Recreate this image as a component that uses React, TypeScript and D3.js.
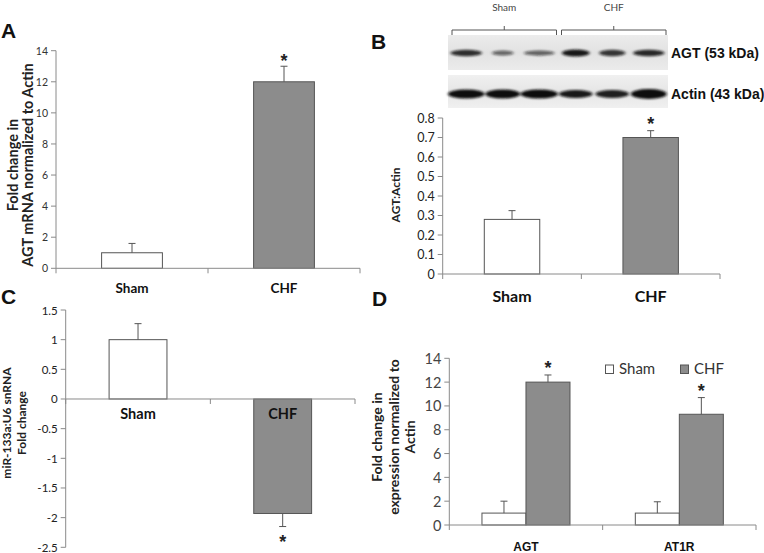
import React from 'react';
import * as d3 from 'd3';

// ---------- data ----------
const groups = ['Sham', 'CHF'];

// Panel A: AGT mRNA fold change
const aMeans = [1.0, 12.0];
const aErrs = [0.6, 1.0];
const aTicks = [0, 2, 4, 6, 8, 10, 12, 14];
const aSig = [false, true];

// Panel B: AGT:Actin densitometry
const bMeans = [0.28, 0.7];
const bErrs = [0.045, 0.035];
const bTicks = [0, 0.1, 0.2, 0.3, 0.4, 0.5, 0.6, 0.7, 0.8];
const bSig = [false, true];

// Panel C: miR-133a:U6 snRNA fold change
const cMeans = [1.0, -1.93];
const cErrs = [0.27, 0.22];
const cTicks = [1.5, 1, 0.5, 0, -0.5, -1, -1.5, -2, -2.5];
const cSig = [false, true];

// Panel D: AGT / AT1R expression
const genes = ['AGT', 'AT1R'];
const dSham = [1.0, 1.0];
const dShamErr = [1.0, 0.95];
const dChf = [12.0, 9.3];
const dChfErr = [0.6, 1.4];
const dTicks = [0, 2, 4, 6, 8, 10, 12, 14];
const dSig = [true, true];

// Western blot lanes (3 Sham, 3 CHF)
const lanes = ['S1', 'S2', 'S3', 'C1', 'C2', 'C3'];
const laneGroup = ['Sham', 'Sham', 'Sham', 'CHF', 'CHF', 'CHF'];
const agtIntensity = [0.85, 0.6, 0.62, 0.95, 0.82, 0.88];
const agtWidth = [0.86, 0.6, 0.84, 0.76, 0.72, 0.86];
const agtThick = [0.9, 0.7, 0.75, 1.0, 0.9, 0.95];
const actinIntensity = [1, 1, 1, 0.95, 0.92, 1];
const actinWidth = [1.0, 0.95, 1.02, 0.92, 0.92, 0.98];
const actinThick = [1, 1, 1, 0.9, 0.9, 1.1];

// ---------- style ----------
const CALIBRI = 'Lato, "Open Sans", sans-serif';
const ARIAL = '"Liberation Sans", Arial, sans-serif';
const AXIS = '#8a8a8a';
const BAR_STROKE = '#555';
const CHF_FILL = '#8c8c8c';
const SHAM_FILL = '#ffffff';

function ErrorBar({ x, y0, y1, cap = 7 }: { x: number; y0: number; y1: number; cap?: number }) {
  return (
    <g stroke="#555" strokeWidth={1}>
      <line x1={x} x2={x} y1={y0} y2={y1} />
      <line x1={x - cap / 2} x2={x + cap / 2} y1={y1} y2={y1} />
    </g>
  );
}

function YAxis({ x, scale, ticks, fontSize, color, fmt, font }: any) {
  const [r0, r1] = scale.range();
  return (
    <g>
      <line x1={x} x2={x} y1={Math.min(r0, r1)} y2={Math.max(r0, r1)} stroke={AXIS} strokeWidth={1} />
      {ticks.map((t: number) => (
        <g key={t}>
          <line x1={x - 5} x2={x} y1={scale(t)} y2={scale(t)} stroke={AXIS} strokeWidth={1} />
          <text
            x={x - 8}
            y={scale(t)}
            textAnchor="end"
            dominantBaseline="central"
            fontFamily={font || CALIBRI}
            fontSize={fontSize}
            fill={color}
          >
            {fmt ? fmt(t) : String(t)}
          </text>
        </g>
      ))}
    </g>
  );
}

function XBaseline({ xScale, y, tickDown = 5 }: any) {
  const [r0, r1] = xScale.range();
  const n = xScale.domain().length;
  const step = (r1 - r0) / n;
  const bounds = d3.range(n + 1).map((i) => r0 + i * step);
  return (
    <g stroke={AXIS} strokeWidth={1}>
      <line x1={r0} x2={r1} y1={y} y2={y} />
      {bounds.map((b, i) => (
        <line key={i} x1={b} x2={b} y1={y} y2={y + tickDown} />
      ))}
    </g>
  );
}

function RotTitle({ cx, cy, lines, fontSize, lineGap, font, color = '#222' }: any) {
  const n = lines.length;
  return (
    <g>
      {lines.map((l: string, i: number) => (
        <text
          key={i}
          transform={`translate(${cx + (i - (n - 1) / 2) * lineGap},${cy}) rotate(-90)`}
          textAnchor="middle"
          dominantBaseline="central"
          fontFamily={font || CALIBRI}
          fontWeight="bold"
          fontSize={fontSize}
          fill={color}
        >
          {l}
        </text>
      ))}
    </g>
  );
}

function Star({ x, y, size = 18 }: any) {
  return (
    <text x={x} y={y} textAnchor="middle" fontFamily={ARIAL} fontWeight="bold" fontSize={size} fill="#222">
      *
    </text>
  );
}

function PanelLetter({ x, y, t }: any) {
  return (
    <text x={x} y={y} fontFamily={ARIAL} fontWeight="bold" fontSize={21} fill="#111">
      {t}
    </text>
  );
}

// ---------- panels ----------
function PanelA() {
  const x = d3.scaleBand<string>().domain(groups).range([56, 360]).paddingInner(0.6).paddingOuter(0.3);
  const y = d3.scaleLinear().domain([0, 14]).range([268.3, 50.7]);
  return (
    <g>
      <PanelLetter x={1} y={38} t="A" />
      <RotTitle cx={20} cy={165} lines={['Fold change in', 'AGT mRNA normalized to Actin']} fontSize={14.5} lineGap={15.5} />
      {groups.map((g, i) => {
        const x0 = x(g)!;
        const cx = x0 + x.bandwidth() / 2;
        const top = y(aMeans[i] + aErrs[i]);
        return (
          <g key={g}>
            <rect x={x0} y={y(aMeans[i])} width={x.bandwidth()} height={y(0) - y(aMeans[i])} fill={i === 0 ? SHAM_FILL : CHF_FILL} stroke={BAR_STROKE} />
            <ErrorBar x={cx} y0={y(aMeans[i])} y1={top} />
            {aSig[i] && <Star x={cx} y={top + 1} />}
            <text x={cx} y={293} textAnchor="middle" fontFamily={CALIBRI} fontWeight="bold" fontSize={13.5} fill="#111">
              {g}
            </text>
          </g>
        );
      })}
      <YAxis x={56} scale={y} ticks={aTicks} fontSize={10.5} color="#333" />
      <XBaseline xScale={x} y={y(0)} />
    </g>
  );
}

function Blot() {
  const lx = d3.scaleBand<string>().domain(lanes).range([448, 667]).padding(0);
  const blots = [
    { key: 'agt', y0: 35, y1: 70, cy: 53, inten: agtIntensity, wid: agtWidth, thick: agtThick, h: 7, label: 'AGT (53 kDa)' },
    { key: 'actin', y0: 75, y1: 108, cy: 94, inten: actinIntensity, wid: actinWidth, thick: actinThick, h: 9, label: 'Actin (43 kDa)' },
  ];
  const brackets = groups.map((g) => {
    const idx = laneGroup.map((lg, i) => (lg === g ? i : -1)).filter((i) => i >= 0);
    const left = lx(lanes[idx[0]])! + 4;
    const right = lx(lanes[idx[idx.length - 1]])! + lx.bandwidth() - 1;
    return { g, left, right };
  });
  return (
    <g>
      <defs>
        <filter id="bandBlur" x="-20%" y="-100%" width="140%" height="300%">
          <feGaussianBlur stdDeviation="1.4 1.1" />
        </filter>
        <linearGradient id="blotBg1" x1="0" x2="0" y1="0" y2="1">
          <stop offset="0" stopColor="#ececec" />
          <stop offset="0.5" stopColor="#e2e2e2" />
          <stop offset="1" stopColor="#ebebeb" />
        </linearGradient>
        <linearGradient id="blotBg2" x1="0" x2="0" y1="0" y2="1">
          <stop offset="0" stopColor="#f0f0f0" />
          <stop offset="0.5" stopColor="#e6e6e6" />
          <stop offset="1" stopColor="#f0f0f0" />
        </linearGradient>
      </defs>
      {brackets.map((b) => (
        <g key={b.g}>
          <path
            d={`M${b.left},35 L${b.left},30 L${b.right},30 L${b.right},35 M${(b.left + b.right) / 2},30 L${(b.left + b.right) / 2},26`}
            fill="none"
            stroke="#555"
            strokeWidth={1}
          />
          <text x={(b.left + b.right) / 2} y={11} textAnchor="middle" fontFamily={CALIBRI} fontSize={10} fill="#444">
            {b.g}
          </text>
        </g>
      ))}
      {blots.map((bl, bi) => (
        <g key={bl.key}>
          <rect x={448} y={bl.y0} width={220} height={bl.y1 - bl.y0} fill={`url(#blotBg${bi + 1})`} />
          <g filter="url(#bandBlur)">
            {lanes.map((l, i) => {
              const w = lx.bandwidth() * bl.wid[i];
              const cx = lx(l)! + lx.bandwidth() / 2;
              const hh = bl.h * bl.thick[i];
              return (
                <ellipse
                  key={l}
                  cx={cx}
                  cy={bl.cy}
                  rx={w / 2}
                  ry={hh / 2}
                  fill="#111"
                  opacity={bl.inten[i]}
                />
              );
            })}
          </g>
          <text x={671} y={bl.cy} dominantBaseline="central" fontFamily={ARIAL} fontWeight="bold" fontSize={14} fill="#111">
            {bl.label}
          </text>
        </g>
      ))}
    </g>
  );
}

function PanelB() {
  const x = d3.scaleBand<string>().domain(groups).range([442.7, 720]).paddingInner(0.6).paddingOuter(0.3);
  const y = d3.scaleLinear().domain([0, 0.8]).range([274, 118]);
  return (
    <g>
      <PanelLetter x={371} y={49} t="B" />
      <Blot />
      <RotTitle cx={395} cy={195} lines={['AGT:Actin']} fontSize={12} lineGap={15} />
      {groups.map((g, i) => {
        const x0 = x(g)!;
        const cx = x0 + x.bandwidth() / 2;
        const top = y(bMeans[i] + bErrs[i]);
        return (
          <g key={g}>
            <rect x={x0} y={y(bMeans[i])} width={x.bandwidth()} height={y(0) - y(bMeans[i])} fill={i === 0 ? SHAM_FILL : CHF_FILL} stroke={BAR_STROKE} />
            <ErrorBar x={cx} y0={y(bMeans[i])} y1={top} />
            {bSig[i] && <Star x={cx} y={top - 1} />}
            <text x={cx} y={302} textAnchor="middle" fontFamily={CALIBRI} fontWeight="bold" fontSize={16} fill="#111">
              {g}
            </text>
          </g>
        );
      })}
      <YAxis x={442.7} scale={y} ticks={bTicks} fontSize={12.5} color="#222" fmt={(t: number) => (t === 0 ? '0' : d3.format('.1f')(t))} />
      <XBaseline xScale={x} y={y(0)} />
    </g>
  );
}

function PanelC() {
  const x = d3.scaleBand<string>().domain(groups).range([65.7, 355]).paddingInner(0.6).paddingOuter(0.3);
  const y = d3.scaleLinear().domain([-2.5, 1.5]).range([547.3, 310]);
  return (
    <g>
      <PanelLetter x={1} y={304} t="C" />
      <RotTitle cx={14} cy={423} lines={['miR-133a:U6 snRNA', 'Fold change']} fontSize={12} lineGap={14.5} />
      {groups.map((g, i) => {
        const x0 = x(g)!;
        const cx = x0 + x.bandwidth() / 2;
        const v = cMeans[i];
        const end = v >= 0 ? v + cErrs[i] : v - cErrs[i];
        const yEnd = y(end);
        return (
          <g key={g}>
            <rect x={x0} y={Math.min(y(v), y(0))} width={x.bandwidth()} height={Math.abs(y(0) - y(v))} fill={i === 0 ? SHAM_FILL : CHF_FILL} stroke={BAR_STROKE} />
            <ErrorBar x={cx} y0={y(v)} y1={yEnd} />
            {cSig[i] && <Star x={cx} y={yEnd + 21.5} />}
            <text x={cx} y={418.5} textAnchor="middle" fontFamily={CALIBRI} fontWeight="bold" fontSize={14.5} fill="#111">
              {g}
            </text>
          </g>
        );
      })}
      <YAxis x={65.7} scale={y} ticks={cTicks} fontSize={11.5} color="#222" />
      <XBaseline xScale={x} y={y(0)} />
    </g>
  );
}

function PanelD() {
  const x = d3.scaleBand<string>().domain(genes).range([449.3, 756]).paddingInner(0.426).paddingOuter(0.213);
  const sub = d3.scaleBand<string>().domain(groups).range([0, x.bandwidth()]).padding(0);
  const y = d3.scaleLinear().domain([0, 14]).range([525, 358.3]);
  const series = [
    { g: 'Sham', m: dSham, e: dShamErr, fill: SHAM_FILL, sig: [false, false] },
    { g: 'CHF', m: dChf, e: dChfErr, fill: CHF_FILL, sig: dSig },
  ];
  return (
    <g>
      <PanelLetter x={372} y={306} t="D" />
      <RotTitle cx={393} cy={437} lines={['Fold change in', 'expression normalized to', 'Actin']} fontSize={14} lineGap={16.5} />
      {genes.map((gene, gi) => (
        <g key={gene}>
          {series.map((s) => {
            const x0 = x(gene)! + sub(s.g)!;
            const cx = x0 + sub.bandwidth() / 2;
            const top = y(s.m[gi] + s.e[gi]);
            return (
              <g key={s.g}>
                <rect x={x0} y={y(s.m[gi])} width={sub.bandwidth()} height={y(0) - y(s.m[gi])} fill={s.fill} stroke={BAR_STROKE} />
                <ErrorBar x={cx} y0={y(s.m[gi])} y1={top} />
                {s.sig[gi] && <Star x={cx} y={top - 1} />}
              </g>
            );
          })}
          <text x={x(gene)! + x.bandwidth() / 2} y={551} textAnchor="middle" fontFamily={ARIAL} fontWeight="bold" fontSize={12} fill="#111">
            {gene}
          </text>
        </g>
      ))}
      <YAxis x={449.3} scale={y} ticks={dTicks} fontSize={14.5} color="#444" />
      <XBaseline xScale={x} y={y(0)} />
      {/* legend */}
      {series.map((s, i) => (
        <g key={s.g} transform={`translate(${605.5 + i * 75},365)`}>
          <rect x={0} y={0} width={8} height={8.5} fill={s.fill} stroke="#555" />
          <text x={13.5} y={9} fontFamily={CALIBRI} fontSize={15} fill="#333">
            {s.g}
          </text>
        </g>
      ))}
    </g>
  );
}

export default function App() {
  return (
    <svg
      width={764}
      height={553}
      viewBox="0 0 764 553"
      style={{ position: 'absolute', left: 0, top: 0, background: '#fff' }}
    >
      <rect x={0} y={0} width={764} height={553} fill="#fff" />
      <PanelA />
      <PanelB />
      <PanelC />
      <PanelD />
    </svg>
  );
}
